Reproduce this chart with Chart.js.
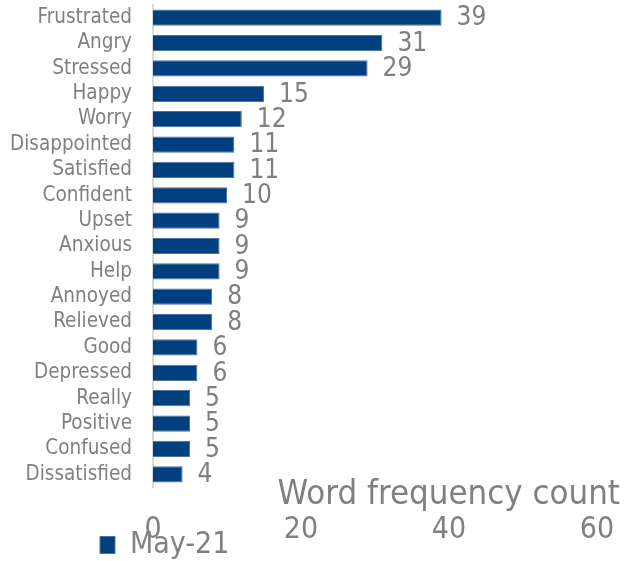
<!DOCTYPE html>
<html>
<head>
<meta charset="utf-8">
<script src="https://cdn.jsdelivr.net/npm/chart.js@4"></script>
<style>
  html, body { margin: 0; padding: 0; background: #fff; }
  #wrap { width: 625px; height: 561px; position: relative; }
</style>
</head>
<body>
<div id="wrap"><canvas id="wordChart"></canvas></div>
<script>
const words = ['Frustrated', 'Angry', 'Stressed', 'Happy', 'Worry', 'Disappointed', 'Satisfied', 'Confident', 'Upset', 'Anxious', 'Help', 'Annoyed', 'Relieved', 'Good', 'Depressed', 'Really', 'Positive', 'Confused', 'Dissatisfied'];
const may21 = [39, 31, 29, 15, 12, 11, 11, 10, 9, 9, 9, 8, 8, 6, 6, 5, 5, 5, 4];
const xTicks = [0, 20, 40, 60];

const FONT = "'DejaVu Sans Condensed', 'DejaVu Sans', sans-serif";
const GREY = '#808080';
const NAVY = '#023f7e';

// value labels to the right of each bar
const valueLabels = {
  id: 'valueLabels',
  afterDatasetsDraw(chart) {
    const ctx = chart.ctx;
    const meta = chart.getDatasetMeta(0);
    ctx.save();
    ctx.font = '26px ' + FONT;
    ctx.fillStyle = '#7f7f7f';
    ctx.textAlign = 'left';
    ctx.textBaseline = 'middle';
    meta.data.forEach((bar, i) => {
      ctx.fillText(String(chart.data.datasets[0].data[i]), bar.x + 15, bar.y + 1);
    });
    ctx.restore();
  }
};

// axis labels are clipped to their boxes; widen the boxes once they are placed
const looseLabels = {
  id: 'looseLabels',
  afterLayout(chart) {
    chart.scales.y.left = 0;
    chart.scales.x2.bottom = chart.height;
  }
};

new Chart(document.getElementById('wordChart'), {
  type: 'bar',
  data: {
    labels: words,
    datasets: [{
      label: 'May-21',
      data: may21,
      backgroundColor: NAVY,
      borderColor: '#4a72a3',
      borderWidth: 1,
      categoryPercentage: 1,
      barPercentage: 0.64
    }]
  },
  options: {
    indexAxis: 'y',
    responsive: true,
    maintainAspectRatio: false,
    animation: false,
    layout: { padding: { top: 5, left: 90, right: 5, bottom: -9 } },
    scales: {
      x: { display: false, min: 0, max: 60 },
      x2: {
        type: 'linear',
        position: 'bottom',
        weight: 2500,
        min: 0,
        max: 60,
        afterBuildTicks: s => { s.ticks = xTicks.map(v => ({ value: v })); },
        grid: { display: false, drawTicks: false },
        border: { display: false },
        ticks: { color: GREY, padding: 3, font: { family: FONT, size: 30, lineHeight: 1 } },
        afterFit: s => { s.height = 8; s.paddingRight = 28; }
      },
      y: {
        grid: { display: false, drawTicks: false },
        border: { display: true, color: '#d9d9d9', width: 2 },
        ticks: { color: GREY, padding: 21, font: { family: FONT, size: 20.5, lineHeight: 1 } },
        afterFit: s => { s.width = 63; s.paddingTop = 0; s.paddingBottom = 0; }
      }
    },
    plugins: {
      title: {
        display: true,
        text: 'Word frequency count',
        position: 'bottom',
        align: 'end',
        color: GREY,
        font: { family: FONT, size: 34.5, weight: 'normal', lineHeight: 1 },
        padding: { top: -9, bottom: -0.5 }
      },
      legend: {
        position: 'bottom',
        align: 'start',
        weight: 3000,
        labels: {
          color: GREY,
          boxWidth: 15,
          boxHeight: 17,
          padding: 10,
          font: { family: FONT, size: 30 }
        }
      },
      tooltip: { enabled: false }
    }
  },
  plugins: [valueLabels, looseLabels]
});
</script>
</body>
</html>
